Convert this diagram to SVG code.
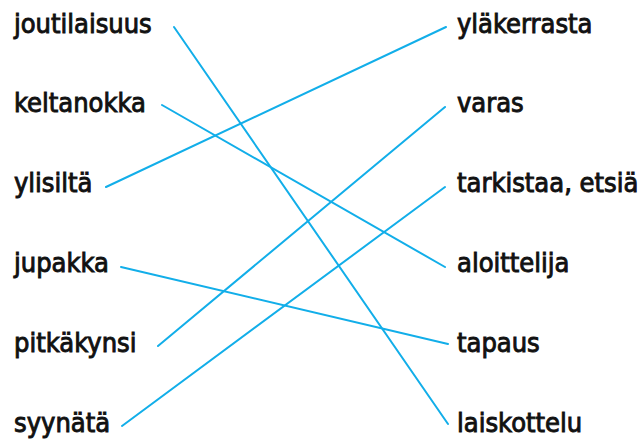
<svg xmlns="http://www.w3.org/2000/svg" width="640" height="442" viewBox="0 0 640 442">
<style>
text{font-family:"DejaVu Sans Condensed","DejaVu Sans",sans-serif;font-size:27px;font-weight:normal;fill:#111;stroke:#111;stroke-width:0.9}
.c line{stroke:#12aee9;stroke-width:2;stroke-linecap:round}
</style>
<rect width="640" height="442" fill="#fff"/>
<g class="c" id="connectors">
<line x1="174" y1="27" x2="448" y2="424"/>
<line x1="162" y1="105" x2="445" y2="267"/>
<line x1="106" y1="187" x2="446" y2="27"/>
<line x1="121" y1="267" x2="448" y2="344"/>
<line x1="158" y1="346" x2="445" y2="107"/>
<line x1="122" y1="426" x2="445" y2="187"/>
</g>
<g id="l1"><text x="14" y="33">joutilaisuus</text></g>
<g id="l2"><text x="14" y="112">keltanokka</text></g>
<g id="l3"><text x="14" y="192">ylisiltä</text></g>
<g id="l4"><text x="14" y="272">jupakka</text></g>
<g id="l5"><text x="14" y="352">pitkäkynsi</text></g>
<g id="l6"><text x="14" y="432">syynätä</text></g>
<g id="r1"><text x="457" y="33">yläkerrasta</text></g>
<g id="r2"><text x="457" y="112">varas</text></g>
<g id="r3"><text x="457" y="192">tarkistaa, etsiä</text></g>
<g id="r4"><text x="457" y="272">aloittelija</text></g>
<g id="r5"><text x="457" y="352">tapaus</text></g>
<g id="r6"><text x="457" y="432">laiskottelu</text></g>
</svg>
